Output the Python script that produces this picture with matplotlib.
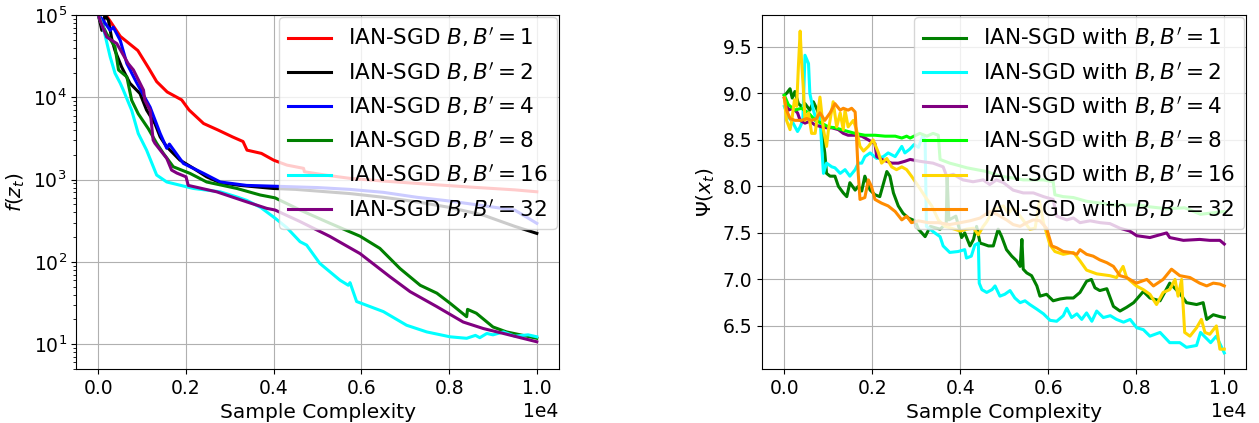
import matplotlib
matplotlib.use("Agg")
import matplotlib.pyplot as plt

# ---------- LEFT: f(z_t), log scale ----------
red_x = [0, 170, 250, 500, 900, 1150, 1330, 1570, 1900, 2070, 2400, 2730, 3060, 3300, 3390,
         3720, 4000, 4300, 4680, 4700, 5200, 5740, 6500, 7500, 8500, 9500, 10000]
red_y = [160000, 100000, 87000, 55000, 37000, 22500, 15500, 11600, 9300, 7000, 4800, 4000, 3300,
         2900, 2280, 2080, 1720, 1500, 1370, 1245, 1130, 1035, 960, 880, 810, 750, 711]

black_x = [0, 80, 150, 230, 310, 380, 530, 720, 950, 1100, 1290, 1410, 1560, 1860, 2170, 2470,
           2780, 3230, 3990, 4500, 5740, 6500, 7260, 8000, 8780, 9500, 10000]
black_y = [100000, 65000, 100000, 86000, 50000, 37000, 23400, 14800, 11100, 7000, 4800, 3300,
           2500, 1725, 1370, 1080, 915, 850, 780, 760, 676, 610, 537, 460, 370, 270, 222]

blue_x = [0, 110, 270, 340, 500, 650, 880, 1180, 1410, 1560, 1620, 1940, 2400, 2780, 3380, 4030,
          5000, 5740, 6500, 7260, 8000, 8800, 9500, 10000]
blue_y = [100000, 86000, 65000, 71000, 49000, 25700, 14800, 7600, 3630, 2400, 2700, 1570, 1190,
          935, 850, 830, 800, 760, 700, 610, 550, 480, 425, 294]

green_x = [0, 40, 190, 380, 460, 650, 760, 910, 1140, 1330, 1480, 1710, 2090, 2470, 3160, 3690,
           4030, 4600, 5280, 5970, 6420, 6580, 6880, 7340, 7720, 8020, 8400, 8420, 8620, 9000,
           9310, 10000]
green_y = [100000, 86000, 59000, 41000, 21500, 17700, 9200, 6300, 4150, 2760, 2090, 1430, 1190,
           935, 780, 650, 600, 427, 295, 205, 146, 120, 83, 52, 41.7, 31.5, 21.6, 26.5, 23.8,
           16.2, 14.1, 11.8]

cyan_x = [0, 110, 270, 380, 500, 570, 760, 910, 1100, 1330, 1560, 2170, 2780, 3140, 3380, 3700,
          4030, 4300, 4600, 4750, 5050, 5510, 5700, 5740, 5890, 6500, 7030, 7490, 8020, 8400,
          8600, 8700, 8860, 9000, 9240, 9500, 9800, 10000]
cyan_y = [100000, 71000, 31000, 19600, 14800, 12200, 6950, 3630, 2280, 1135, 935, 780, 710, 620,
          560, 460, 340, 260, 176, 160, 96, 60, 52, 56, 33, 24.9, 17, 14.1, 12.3, 11.8, 12.8, 12,
          13.5, 13, 14.1, 12.5, 13, 12.3]

purple_x = [0, 40, 190, 420, 680, 800, 1030, 1060, 1180, 1250, 1290, 1560, 1670, 1790, 2000,
            2050, 2700, 3380, 3840, 4030, 4600, 5280, 5970, 6650, 7110, 7720, 8320, 8780, 9240,
            10000]
purple_y = [100000, 86000, 54000, 45000, 25700, 21500, 12200, 9200, 6950, 3020, 2760, 1810,
            1305, 1200, 1080, 850, 710, 537, 447, 427, 309, 204, 126, 66, 43.5, 28.6, 18.6,
            15.5, 13.5, 10.7]

left_labels = ["IAN-SGD $B, B'=1$", "IAN-SGD $B, B'=2$", "IAN-SGD $B, B'=4$",
               "IAN-SGD $B, B'=8$", "IAN-SGD $B, B'=16$", "IAN-SGD $B, B'=32$"]

# ---------- RIGHT: Psi(x_t) ----------
g_x = [0, 50, 130, 180, 240, 320, 390, 470, 580, 660, 730, 810, 920, 960, 1040, 1150, 1230, 1340,
       1420, 1490, 1610, 1680, 1760, 1830, 1950, 2060, 2170, 2330, 2400, 2480, 2590, 2700, 2820,
       2970, 3050, 3200, 3320, 3540, 3680, 3700, 3740, 3900, 4030, 4100, 4220, 4300, 4370, 4450,
       4520, 4640, 4750, 4860, 4940, 5050, 5170, 5280, 5360, 5400, 5430, 5510, 5620, 5740, 5810,
       5960, 6110, 6270, 6420, 6570, 6720, 6870, 6980, 7060, 7170, 7330, 7480, 7630, 7780, 7940,
       8160, 8310, 8540, 8760, 8990, 9140, 9370, 9520, 9600, 9750, 9900, 10000]
g_y = [8.98, 9.0, 9.05, 8.95, 9.02, 8.89, 8.86, 8.89, 8.82, 8.91, 8.84, 8.75, 8.36, 8.14, 8.11,
       8.11, 8.0, 7.93, 7.89, 8.04, 7.96, 8.0, 7.95, 8.11, 7.96, 7.91, 7.89, 8.16, 8.11, 7.93,
       7.79, 7.71, 7.66, 7.63, 7.54, 7.46, 7.57, 7.54, 7.6, 8.1, 7.64, 7.68, 7.45, 7.5, 7.36,
       7.43, 7.57, 7.39, 7.38, 7.36, 7.36, 7.54, 7.46, 7.32, 7.25, 7.2, 7.14, 7.43, 7.11, 7.07,
       7.04, 6.93, 6.82, 6.84, 6.77, 6.79, 6.8, 6.8, 6.86, 6.98, 7.0, 6.91, 6.88, 6.9, 6.71, 6.66,
       6.7, 6.75, 6.87, 6.8, 6.77, 6.96, 6.85, 6.75, 6.73, 6.75, 6.57, 6.62, 6.6, 6.59]

c_x = [0, 90, 200, 300, 360, 420, 470, 550, 580, 660, 730, 810, 850, 890, 960, 1080, 1150, 1270,
       1380, 1490, 1610, 1680, 1760, 1830, 1950, 2100, 2250, 2360, 2520, 2670, 2740, 2850, 2950,
       3050, 3140, 3200, 3230, 3420, 3540, 3610, 3760, 3950, 4100, 4140, 4250, 4330, 4410, 4430,
       4490, 4600, 4720, 4790, 4900, 5010, 5130, 5240, 5360, 5470, 5580, 5740, 5890, 6040, 6190,
       6340, 6420, 6530, 6650, 6760, 6870, 6990, 7100, 7250, 7410, 7550, 7710, 7860, 8010, 8160,
       8310, 8540, 8760, 8990, 9140, 9370, 9460, 9690, 9820, 10000]
c_y = [8.86, 8.75, 8.68, 8.59, 8.64, 8.71, 9.41, 9.32, 9.0, 8.82, 8.71, 8.75, 8.43, 8.14, 8.25,
       8.21, 8.2, 8.14, 8.18, 8.11, 8.18, 8.25, 8.25, 8.32, 8.36, 8.3, 8.32, 8.36, 8.32, 8.43,
       8.36, 8.4, 8.45, 8.42, 8.54, 8.5, 7.57, 7.5, 7.46, 7.36, 7.29, 7.3, 7.32, 7.23, 7.25, 7.37,
       7.39, 6.96, 6.89, 6.86, 6.89, 6.93, 6.82, 6.84, 6.88, 6.8, 6.75, 6.77, 6.73, 6.68, 6.63,
       6.56, 6.55, 6.61, 6.69, 6.59, 6.63, 6.57, 6.64, 6.55, 6.66, 6.59, 6.61, 6.57, 6.54, 6.57,
       6.48, 6.46, 6.39, 6.43, 6.32, 6.32, 6.27, 6.29, 6.43, 6.32, 6.39, 6.21]

p_x = [0, 90, 200, 300, 360, 470, 580, 700, 850, 960, 1080, 1230, 1340, 1450, 1610, 1760, 1910,
       2060, 2100, 2210, 2330, 2440, 2590, 2740, 2860, 3080, 3380, 3610, 3690, 3840, 4060, 4290,
       4520, 4670, 4820, 4980, 5200, 5430, 5660, 5890, 6110, 6190, 6420, 6570, 6720, 6950, 7180,
       7400, 7630, 7850, 8010, 8310, 8690, 8760, 9070, 9440, 9670, 9900, 10000]
p_y = [8.95, 8.82, 8.84, 8.79, 8.71, 8.68, 8.7, 8.66, 8.64, 8.63, 8.63, 8.61, 8.57, 8.55, 8.55,
       8.54, 8.5, 8.46, 8.32, 8.29, 8.27, 8.25, 8.25, 8.27, 8.29, 8.27, 8.25, 8.21, 8.11, 8.13,
       8.07, 8.05, 8.07, 8.02, 8.07, 8.04, 7.96, 7.93, 7.93, 7.89, 7.86, 7.68, 7.64, 7.66, 7.61,
       7.63, 7.61, 7.6, 7.55, 7.52, 7.47, 7.45, 7.5, 7.45, 7.42, 7.43, 7.42, 7.42, 7.38]

l_x = [0, 90, 240, 390, 550, 700, 850, 1000, 1150, 1300, 1450, 1610, 1830, 2060, 2290, 2520,
       2670, 2780, 2860, 3080, 3240, 3380, 3500, 3540, 3760, 3920, 4150, 4370, 4600, 4900, 5200,
       5430, 5890, 6110, 6150, 6340, 6570, 6870, 7180, 7480, 8080, 8310, 8700, 9100, 9460, 10000]
l_y = [8.98, 8.88, 8.82, 8.84, 8.79, 8.71, 8.68, 8.64, 8.63, 8.61, 8.59, 8.57, 8.55, 8.55, 8.54,
       8.54, 8.52, 8.54, 8.52, 8.57, 8.54, 8.57, 8.55, 8.29, 8.25, 8.23, 8.2, 8.18, 8.16, 8.11,
       8.09, 8.07, 8.07, 8.05, 7.91, 7.89, 7.88, 7.84, 7.82, 7.8, 7.8, 7.78, 7.76, 7.77, 7.7, 7.73]

y_x = [0, 50, 130, 170, 230, 280, 320, 360, 390, 430, 470, 550, 620, 700, 810, 890, 960, 1000,
       1110, 1190, 1270, 1340, 1380, 1450, 1570, 1640, 1720, 1800, 1910, 2020, 2140, 2210, 2330,
       2440, 2550, 2670, 2780, 2890, 3050, 3200, 3350, 3500, 3650, 3800, 4000, 4140, 4300, 4410,
       4520, 4600, 4750, 4980, 5090, 5200, 5360, 5470, 5580, 5700, 5800, 5890, 6040, 6150, 6340,
       6570, 6720, 6870, 7100, 7400, 7550, 7700, 7780, 8000, 8160, 8310, 8460, 8610, 8760, 8880,
       8950, 9030, 9100, 9220, 9370, 9480, 9560, 9670, 9820, 9900, 10000]
y_y = [8.95, 8.71, 8.61, 8.71, 8.93, 8.86, 9.29, 9.67, 9.36, 9.07, 8.71, 8.79, 8.57, 8.57, 8.96,
       8.61, 8.43, 8.6, 8.91, 8.64, 8.79, 8.61, 8.82, 8.64, 8.71, 8.61, 8.43, 8.38, 8.43, 8.5,
       8.36, 8.25, 8.3, 8.21, 8.18, 8.21, 8.18, 8.11, 8.0, 7.89, 7.79, 7.64, 7.57, 7.55, 7.52,
       7.54, 7.55, 7.48, 7.57, 7.62, 7.75, 7.79, 7.71, 7.77, 7.68, 7.61, 7.54, 7.55, 7.84, 7.61,
       7.37, 7.3, 7.27, 7.29, 7.2, 7.1, 7.06, 7.04, 7.02, 7.14, 7.02, 6.93, 6.89, 6.84, 6.73,
       6.86, 6.89, 7.0, 6.82, 7.0, 6.43, 6.39, 6.48, 6.57, 6.43, 6.41, 6.5, 6.25, 6.25]

o_x = [0, 50, 130, 240, 390, 510, 620, 730, 810, 920, 1040, 1150, 1270, 1340, 1450, 1530, 1610,
       1640, 1680, 1720, 1830, 1910, 1980, 2060, 2210, 2360, 2520, 2670, 2780, 2890, 3050, 3270,
       3500, 3760, 4000, 4220, 4450, 4670, 4830, 5050, 5200, 5360, 5510, 5660, 5810, 5960, 6080,
       6190, 6340, 6500, 6650, 6720, 6870, 7020, 7170, 7330, 7480, 7630, 7780, 8000, 8240, 8390,
       8610, 8800, 8990, 9220, 9440, 9600, 9750, 9900, 10000]
o_y = [8.95, 8.82, 8.73, 8.71, 8.71, 8.73, 8.71, 8.73, 8.79, 8.71, 8.79, 8.89, 8.82, 8.84, 8.82,
       8.84, 8.8, 8.54, 8.14, 7.86, 7.88, 8.07, 8.0, 7.86, 7.82, 7.79, 7.73, 7.64, 7.68, 7.61,
       7.63, 7.61, 7.61, 7.59, 7.61, 7.63, 7.66, 7.73, 7.7, 7.64, 7.59, 7.57, 7.61, 7.64, 7.63,
       7.55, 7.36, 7.34, 7.3, 7.29, 7.27, 7.32, 7.27, 7.25, 7.21, 7.18, 7.14, 7.04, 7.02, 6.96,
       7.0, 6.93, 7.0, 7.11, 7.04, 7.02, 6.96, 6.93, 6.96, 6.95, 6.93]

right_labels = ["IAN-SGD with $B, B'=1$", "IAN-SGD with $B, B'=2$", "IAN-SGD with $B, B'=4$",
                "IAN-SGD with $B, B'=8$", "IAN-SGD with $B, B'=16$", "IAN-SGD with $B, B'=32$"]

# ---------- PLOT ----------
fig = plt.figure(figsize=(12.59, 4.23), dpi=100)
ax1 = fig.add_axes([0.0607, 0.1277, 0.3831, 0.8369])
ax2 = fig.add_axes([0.6055, 0.1277, 0.3844, 0.8369])
lw = 2.2

left_series = [(red_x, red_y, 'red'), (black_x, black_y, 'black'), (blue_x, blue_y, 'blue'),
               (green_x, green_y, 'green'), (cyan_x, cyan_y, 'cyan'),
               (purple_x, purple_y, 'purple')]
for (xs, ys, c), lab in zip(left_series, left_labels):
    ax1.plot(xs, ys, color=c, linewidth=lw, label=lab)
ax1.set_yscale('log')
ax1.set_ylim(5, 1e5)
ax1.set_ylabel('$f(z_t)$', fontsize=14.5)

right_series = [(g_x, g_y, 'green'), (c_x, c_y, 'cyan'), (p_x, p_y, 'purple'),
                (l_x, l_y, 'lime'), (y_x, y_y, 'gold'), (o_x, o_y, 'darkorange')]
for (xs, ys, c), lab in zip(right_series, right_labels):
    ax2.plot(xs, ys, color=c, linewidth=lw, label=lab)
ax2.set_ylabel(r'$\Psi(x_t)$', fontsize=14.5)

for ax in (ax1, ax2):
    ax.ticklabel_format(style='sci', axis='x', scilimits=(0, 0))
    ax.xaxis.get_offset_text().set_fontsize(13.5)
    ax.set_xlabel('Sample Complexity', fontsize=14.5)
    ax.tick_params(labelsize=13.5)
    ax.grid(True)
    ax.legend(loc='upper right', fontsize=15.5, borderaxespad=0.1)

plt.savefig('out.png', dpi=100)
